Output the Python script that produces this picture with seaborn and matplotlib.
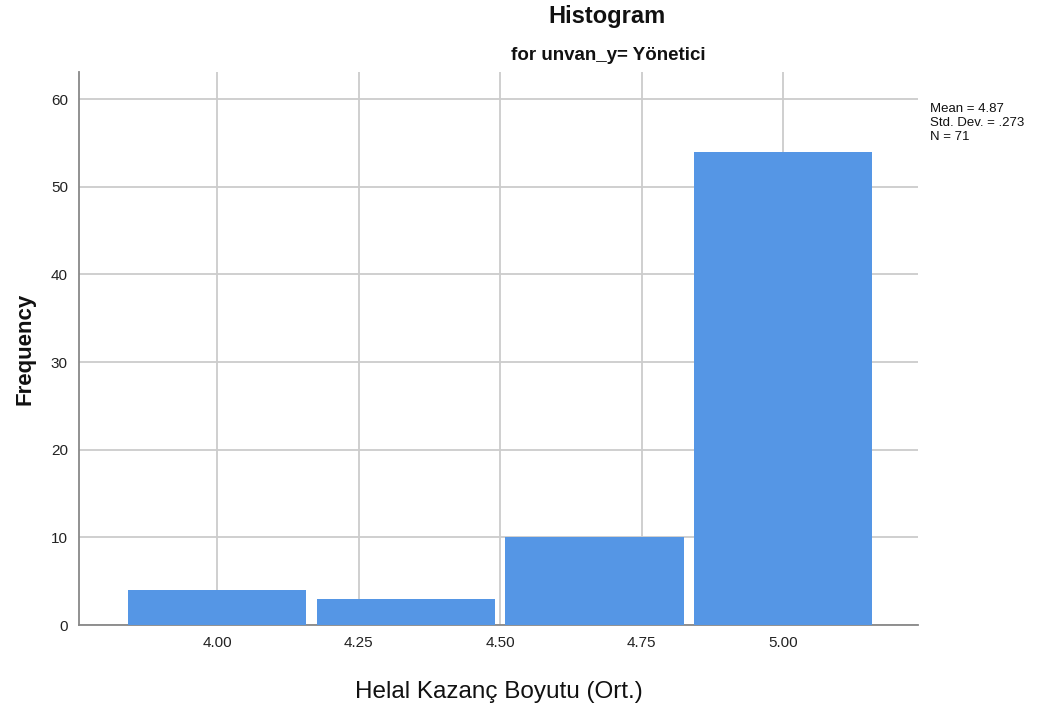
import numpy as np
import pandas as pd
import matplotlib
matplotlib.use("Agg")
import matplotlib.pyplot as plt
import seaborn as sns

# data
bin_centers = [4.0, 4.3333, 4.6667, 5.0]
frequencies = [4, 3, 10, 54]
bin_width = 1 / 3
x_ticks = [4.00, 4.25, 4.50, 4.75, 5.00]
x_tick_labels = ["4.00", "4.25", "4.50", "4.75", "5.00"]
y_ticks = [0, 10, 20, 30, 40, 50, 60]
stats_lines = ["Mean = 4.87", "Std. Dev. = .273", "N = 71"]

df = pd.DataFrame({"value": bin_centers, "freq": frequencies})
edges = [c - bin_width / 2 for c in bin_centers] + [bin_centers[-1] + bin_width / 2]

sns.set_style("white")
plt.rcParams["font.family"] = ["Liberation Sans", "DejaVu Sans"]

fig = plt.figure(figsize=(10.54, 7.04), dpi=100)
ax = fig.add_axes([0.075, 0.1122, 0.796, 0.7855])

sns.histplot(data=df, x="value", weights="freq", bins=edges, shrink=0.945,
             color="#5596e5", alpha=1, edgecolor="none", linewidth=0, ax=ax, zorder=3)

ax.set_xlim(3.756, 5.2385)
ax.set_ylim(0, 63.1)
ax.set_xticks(x_ticks)
ax.set_xticklabels(x_tick_labels)
ax.set_yticks(y_ticks)
ax.tick_params(axis="both", length=0, labelsize=11, colors="#222222", pad=8)
ax.grid(True, color="#cccccc", linewidth=1.3, zorder=0)
ax.set_axisbelow(True)

for side in ["top", "right"]:
    ax.spines[side].set_visible(False)
for side in ["left", "bottom"]:
    ax.spines[side].set_color("#888888")
    ax.spines[side].set_linewidth(1.3)

ax.set_xlabel("Helal Kazanç Boyutu (Ort.)", fontsize=17.5, labelpad=22, color="#111111")
ax.set_ylabel("Frequency", fontsize=16, fontweight="bold", labelpad=11, color="#111111")

fig.text(607 / 1054, 1 - 16 / 704, "Histogram", fontsize=17, fontweight="bold",
         ha="center", va="center", color="#111111")
fig.text(608 / 1054, 1 - 56 / 704, "for unvan_y= Yönetici", fontsize=13.5, fontweight="bold",
         ha="center", va="center", color="#111111")
fig.text(930 / 1054, 1 - 103 / 704, "\n".join(stats_lines), fontsize=9.5,
         ha="left", va="top", linespacing=1.25, color="#111111")

fig.savefig("out.png", dpi=100)
